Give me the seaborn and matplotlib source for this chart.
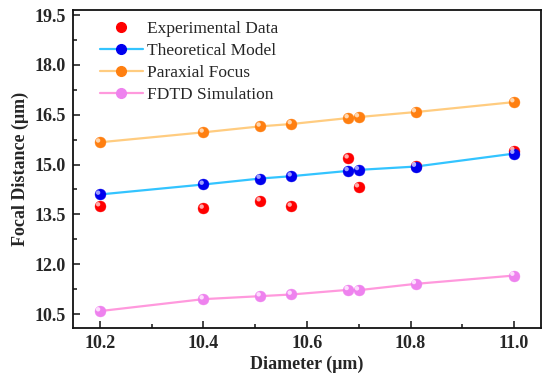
import numpy as np
import pandas as pd
import matplotlib
matplotlib.use('Agg')
import matplotlib.pyplot as plt
import matplotlib.transforms as mtransforms
from matplotlib.lines import Line2D
from matplotlib.ticker import MultipleLocator
import seaborn as sns

# data
diameter = [10.20, 10.40, 10.51, 10.57, 10.68, 10.70, 10.81, 11.00]
experimental = [13.75, 13.68, 13.90, 13.74, 15.19, 14.32, 14.96, 15.42]
theoretical = [14.10, 14.40, 14.58, 14.65, 14.81, 14.84, 14.94, 15.33]
paraxial = [15.67, 15.97, 16.15, 16.22, 16.40, 16.43, 16.58, 16.88]
fdtd = [10.59, 10.95, 11.04, 11.09, 11.23, 11.22, 11.41, 11.66]

df = pd.DataFrame({
    'Diameter': diameter,
    'Experimental Data': experimental,
    'Theoretical Model': theoretical,
    'Paraxial Focus': paraxial,
    'FDTD Simulation': fdtd,
})

sns.set_style('ticks')
plt.rcParams['font.family'] = ['Liberation Serif', 'DejaVu Serif']

fig = plt.figure(figsize=(5.5, 3.86), dpi=100)
ax = fig.add_axes([0.1327, 0.151, 0.851, 0.823])

# series: (name, line colour, marker colour, highlight colour, has line)
series = [
    ('Experimental Data', None, '#ff0000', '#ffc0c0', False),
    ('Theoretical Model', '#33c4ff', '#0000ee', '#b0b0ff', True),
    ('Paraxial Focus', '#ffcc80', '#ff7f10', '#ffe0c0', True),
    ('FDTD Simulation', '#ff99dd', '#ee82ee', '#ffe8ff', True),
]

ms = 62
hl = mtransforms.ScaledTranslation(-1.3 / 72, 1.3 / 72, fig.dpi_scale_trans)

handles = []
for name, lc, mc, hc, has_line in series:
    if has_line:
        sns.lineplot(data=df, x='Diameter', y=name, color=lc, lw=1.6,
                     sort=False, ax=ax, zorder=2)
    sns.scatterplot(data=df, x='Diameter', y=name, color=mc, s=ms,
                    edgecolor=mc, linewidth=0.3, ax=ax, zorder=3)
    sns.scatterplot(data=df, x='Diameter', y=name, color=hc, s=10,
                    edgecolor='none', alpha=0.9, ax=ax, zorder=4)
    ax.collections[-1].set_offset_transform(ax.transData + hl)
    handles.append(Line2D([], [], color=lc if has_line else 'none', lw=1.6,
                          marker='o', markersize=7, markerfacecolor=mc,
                          markeredgecolor=mc, label=name))

ax.set_xlim(10.148, 11.052)
ax.set_ylim(10.09, 19.65)
ax.xaxis.set_major_locator(MultipleLocator(0.2))
ax.xaxis.set_minor_locator(MultipleLocator(0.1))
ax.yaxis.set_major_locator(MultipleLocator(1.5))
ax.yaxis.set_minor_locator(MultipleLocator(0.75))
ax.tick_params(which='both', direction='in', top=False, right=False,
               width=1.2)
ax.tick_params(which='major', length=5, labelsize=13, pad=5)
ax.tick_params(which='minor', length=3)
for lab in ax.get_xticklabels() + ax.get_yticklabels():
    lab.set_fontweight('bold')
for sp in ax.spines.values():
    sp.set_linewidth(1.3)
    sp.set_color('#111111')

ax.set_xlabel('Diameter (μm)', fontsize=13, fontweight='bold', labelpad=3)
ax.set_ylabel('Focal Distance (μm)', fontsize=13, fontweight='bold',
              labelpad=4)

ax.legend(handles=handles, loc='upper left', frameon=False, fontsize=12.5,
          handlelength=2.5, handletextpad=0.2, labelspacing=0.35,
          borderaxespad=0.2, bbox_to_anchor=(0.035, 1.0))

fig.savefig('out.png', dpi=100)
